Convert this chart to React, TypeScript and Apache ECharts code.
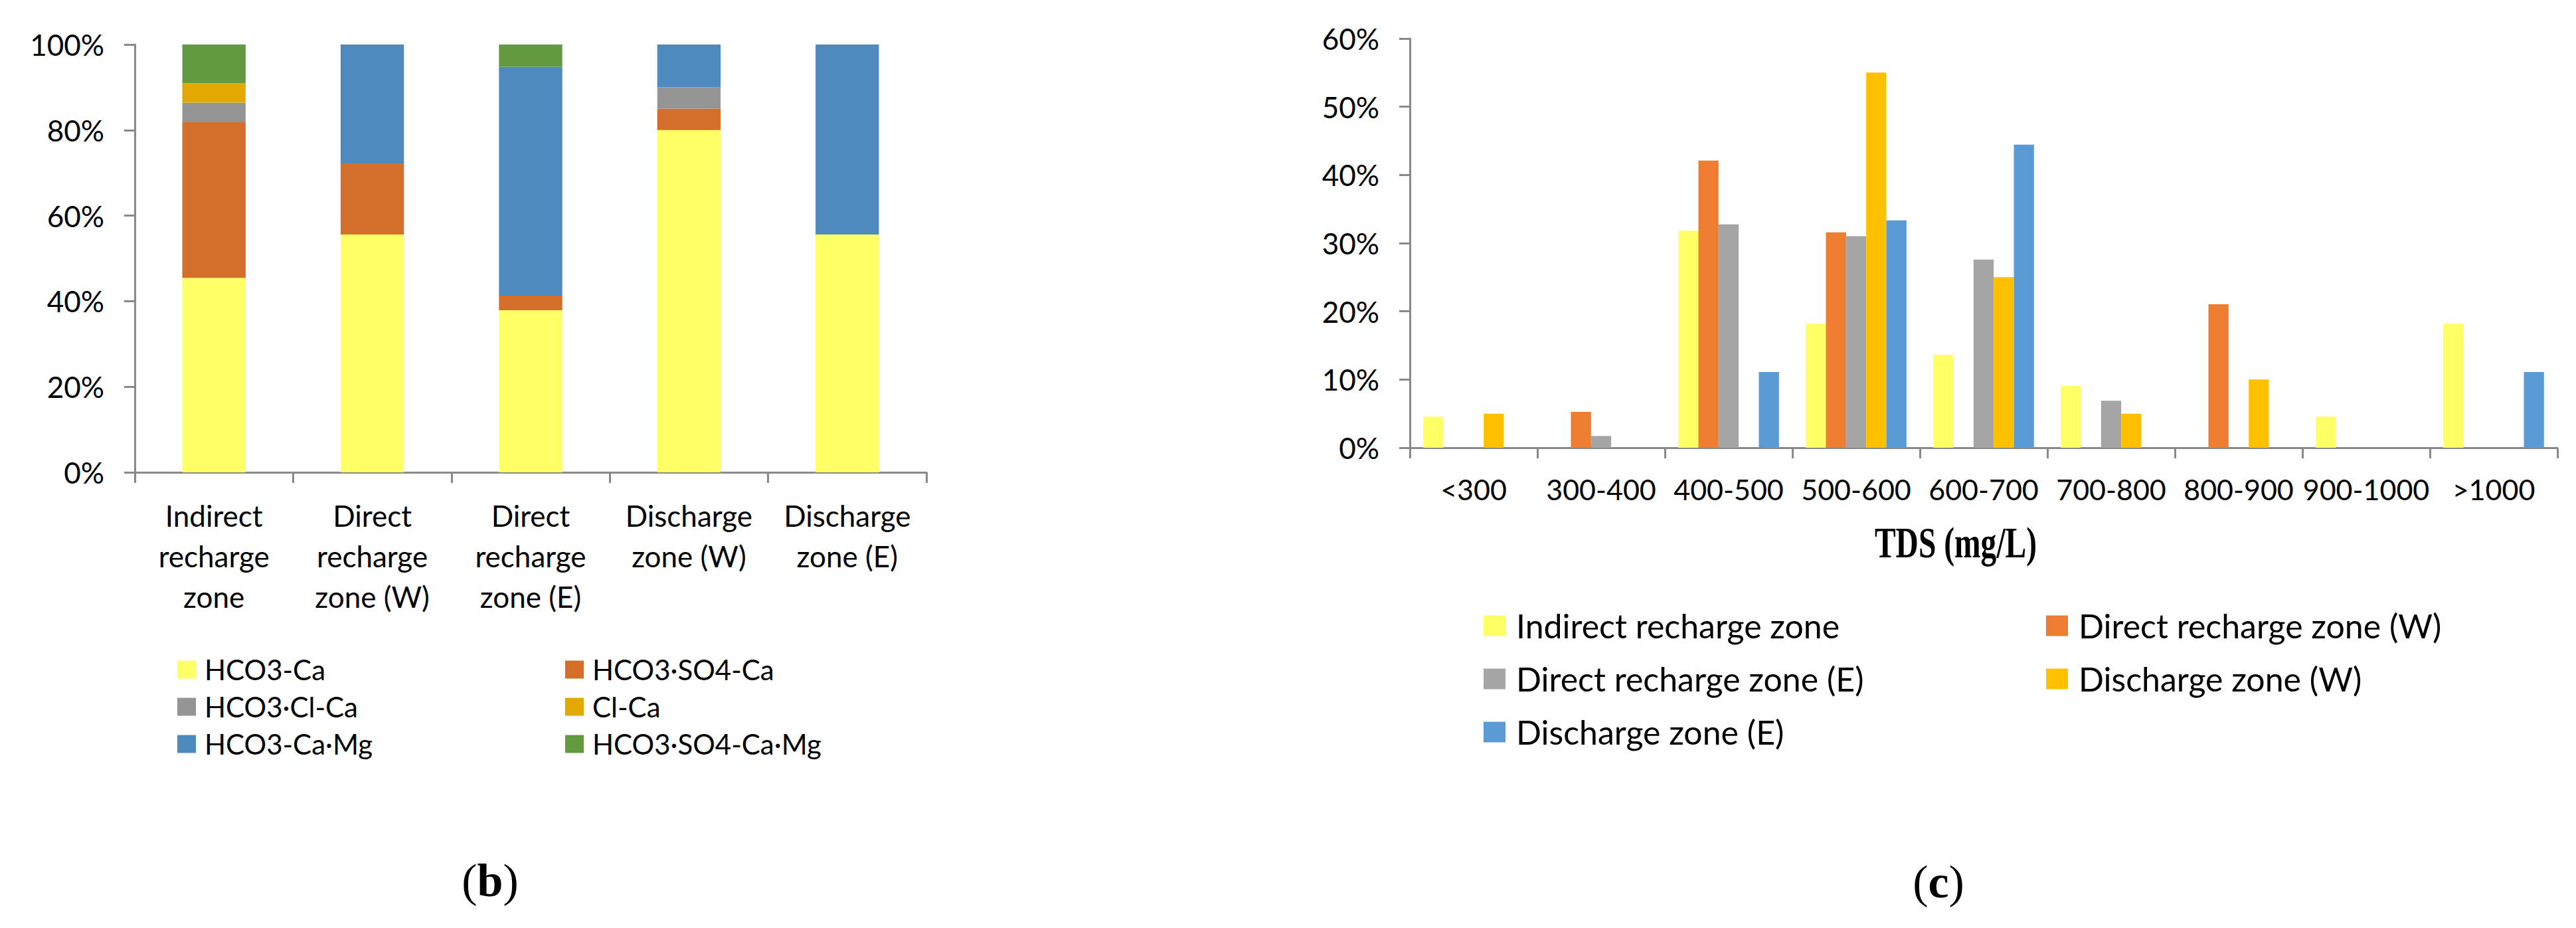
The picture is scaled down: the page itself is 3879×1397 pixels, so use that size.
import React, { useEffect, useRef } from 'react';
import * as echarts from 'echarts';

// ---------- Panel (b): hydrochemical types by zone (%) ----------
const zones = [
  'Indirect recharge zone',
  'Direct recharge zone (W)',
  'Direct recharge zone (E)',
  'Discharge zone (W)',
  'Discharge zone (E)',
];
const hydroTypes = ['HCO3-Ca', 'HCO3·SO4-Ca', 'HCO3·Cl-Ca', 'Cl-Ca', 'HCO3-Ca·Mg', 'HCO3·SO4-Ca·Mg'];
const hco3Ca = [45.45, 55.6, 37.9, 80, 55.6];
const hco3So4Ca = [36.4, 16.6, 3.4, 5, 0];
const hco3ClCa = [4.55, 0, 0, 5, 0];
const clCa = [4.55, 0, 0, 0, 0];
const hco3CaMg = [0, 27.8, 53.5, 10, 44.4];
const hco3So4CaMg = [9.05, 0, 5.3, 0, 0];
const typeValues = [hco3Ca, hco3So4Ca, hco3ClCa, clCa, hco3CaMg, hco3So4CaMg];
const typeColors = ['#FFFF66', '#D46F2B', '#959595', '#E2AA00', '#4F8ABE', '#639A3F'];
const bTicks = [0, 20, 40, 60, 80, 100];

// ---------- Panel (c): TDS distribution by zone (%) ----------
const tdsBins = ['<300', '300-400', '400-500', '500-600', '600-700', '700-800', '800-900', '900-1000', '>1000'];
const indirectTds = [4.55, 0, 31.82, 18.18, 13.64, 9.09, 0, 4.55, 18.18];
const directWTds = [0, 5.26, 42.11, 31.58, 0, 0, 21.05, 0, 0];
const directETds = [0, 1.72, 32.76, 31.03, 27.59, 6.9, 0, 0, 0];
const dischargeWTds = [5, 0, 0, 55, 25, 5, 10, 0, 0];
const dischargeETds = [0, 0, 11.11, 33.33, 44.44, 0, 0, 0, 11.11];
const tdsSeriesNames = [
  'Indirect recharge zone',
  'Direct recharge zone (W)',
  'Direct recharge zone (E)',
  'Discharge zone (W)',
  'Discharge zone (E)',
];
const tdsValues = [indirectTds, directWTds, directETds, dischargeWTds, dischargeETds];
const tdsColors = ['#FFFF66', '#ED7D31', '#A5A5A5', '#FFC000', '#5B9BD5'];
const cTicks = [0, 10, 20, 30, 40, 50, 60];

const SANS = 'Lato, "Open Sans", sans-serif';
const SERIF = '"Liberation Serif", "DejaVu Serif", serif';
const AXIS_GREY = '#898989';

export default function App() {
  const ref = useRef<HTMLDivElement>(null);

  useEffect(() => {
    document.body.style.margin = '0';
    if (!ref.current) return;
    const chart = echarts.init(ref.current, null, { renderer: 'svg' });

    const axisLine = { show: true, lineStyle: { color: AXIS_GREY, width: 3 } };
    const axisTick = { show: true, length: 16, lineStyle: { color: AXIS_GREY, width: 3 } };

    const seriesB = hydroTypes.map((name, i) => ({
      name,
      type: 'bar',
      stack: 'types',
      xAxisIndex: 0,
      yAxisIndex: 0,
      barCategoryGap: '60%',
      itemStyle: { color: typeColors[i] },
      data: typeValues[i],
    }));

    const seriesC = tdsSeriesNames.map((name, i) => ({
      name,
      type: 'bar',
      xAxisIndex: 1,
      yAxisIndex: 1,
      barGap: '0%',
      barCategoryGap: '21%',
      itemStyle: { color: tdsColors[i] },
      data: tdsValues[i],
    }));

    const legendBase = {
      orient: 'vertical',
      icon: 'rect',
      padding: 0,
      selectedMode: false,
    };

    chart.setOption({
      animation: false,
      backgroundColor: '#ffffff',
      grid: [
        { left: 203, top: 67, width: 1192, height: 644 },
        { left: 2123, top: 58, width: 1728, height: 616 },
      ],
      xAxis: [
        {
          type: 'category',
          gridIndex: 0,
          data: zones,
          axisLine,
          axisTick,
          axisLabel: {
            interval: 0,
            margin: 34,
            color: '#000',
            fontFamily: SANS,
            fontSize: 44,
            lineHeight: 61,
            formatter: (v: string) => v.replace(/ (?!\()/g, '\n'),
          },
        },
        {
          type: 'category',
          gridIndex: 1,
          data: tdsBins,
          axisLine,
          axisTick,
          axisLabel: {
            interval: 0,
            margin: 41,
            color: '#000',
            fontFamily: SANS,
            fontSize: 43,
            lineHeight: 43,
          },
        },
      ],
      yAxis: [
        {
          type: 'value',
          gridIndex: 0,
          min: bTicks[0],
          max: bTicks[bTicks.length - 1],
          interval: 20,
          axisLine,
          axisTick,
          splitLine: { show: false },
          axisLabel: {
            margin: 46,
            color: '#000',
            fontFamily: SANS,
            fontSize: 44,
            formatter: '{value}%',
          },
        },
        {
          type: 'value',
          gridIndex: 1,
          min: cTicks[0],
          max: cTicks[cTicks.length - 1],
          interval: 10,
          axisLine,
          axisTick,
          splitLine: { show: false },
          axisLabel: {
            margin: 46,
            color: '#000',
            fontFamily: SANS,
            fontSize: 44,
            formatter: '{value}%',
          },
        },
      ],
      legend: [
        {
          ...legendBase,
          left: 267,
          top: 987,
          itemWidth: 28,
          itemHeight: 27,
          itemGap: 14,
          data: [hydroTypes[0], hydroTypes[2], hydroTypes[4]],
          textStyle: { fontFamily: SANS, fontSize: 42, lineHeight: 42, color: '#000', padding: [0, 0, 0, 8] },
        },
        {
          ...legendBase,
          left: 851,
          top: 987,
          itemWidth: 28,
          itemHeight: 27,
          itemGap: 14,
          data: [hydroTypes[1], hydroTypes[3], hydroTypes[5]],
          textStyle: { fontFamily: SANS, fontSize: 42, lineHeight: 42, color: '#000', padding: [0, 0, 0, 8] },
        },
        {
          ...legendBase,
          left: 2234,
          top: 917,
          itemWidth: 33,
          itemHeight: 31,
          itemGap: 30,
          data: [tdsSeriesNames[0], tdsSeriesNames[2], tdsSeriesNames[4]],
          textStyle: { fontFamily: SANS, fontSize: 50, lineHeight: 50, color: '#000', padding: [0, 0, 0, 11] },
        },
        {
          ...legendBase,
          left: 3081,
          top: 917,
          itemWidth: 33,
          itemHeight: 31,
          itemGap: 30,
          data: [tdsSeriesNames[1], tdsSeriesNames[3]],
          textStyle: { fontFamily: SANS, fontSize: 50, lineHeight: 50, color: '#000', padding: [0, 0, 0, 11] },
        },
      ],
      graphic: [
        {
          type: 'text',
          x: 2945,
          y: 817,
          scaleX: 0.72,
          style: {
            text: 'TDS (mg/L)',
            fontFamily: SERIF,
            fontWeight: 'bold',
            fontSize: 66,
            fill: '#000',
            align: 'center',
            verticalAlign: 'middle',
          },
        },
        {
          type: 'text',
          x: 738,
          y: 1325,
          style: {
            text: '{p|(}{b|b}{p|)}',
            align: 'center',
            verticalAlign: 'middle',
            rich: {
              p: { fontFamily: SERIF, fontSize: 70, fill: '#000', fontWeight: 'normal' },
              b: { fontFamily: SERIF, fontSize: 70, fill: '#000', fontWeight: 'bold' },
            },
          },
        },
        {
          type: 'text',
          x: 2919,
          y: 1327,
          style: {
            text: '{p|(}{b|c}{p|)}',
            align: 'center',
            verticalAlign: 'middle',
            rich: {
              p: { fontFamily: SERIF, fontSize: 70, fill: '#000', fontWeight: 'normal' },
              b: { fontFamily: SERIF, fontSize: 70, fill: '#000', fontWeight: 'bold' },
            },
          },
        },
      ],
      series: [...seriesB, ...seriesC],
    });

    return () => chart.dispose();
  }, []);

  return <div ref={ref} style={{ width: 3879, height: 1397 }} />;
}
